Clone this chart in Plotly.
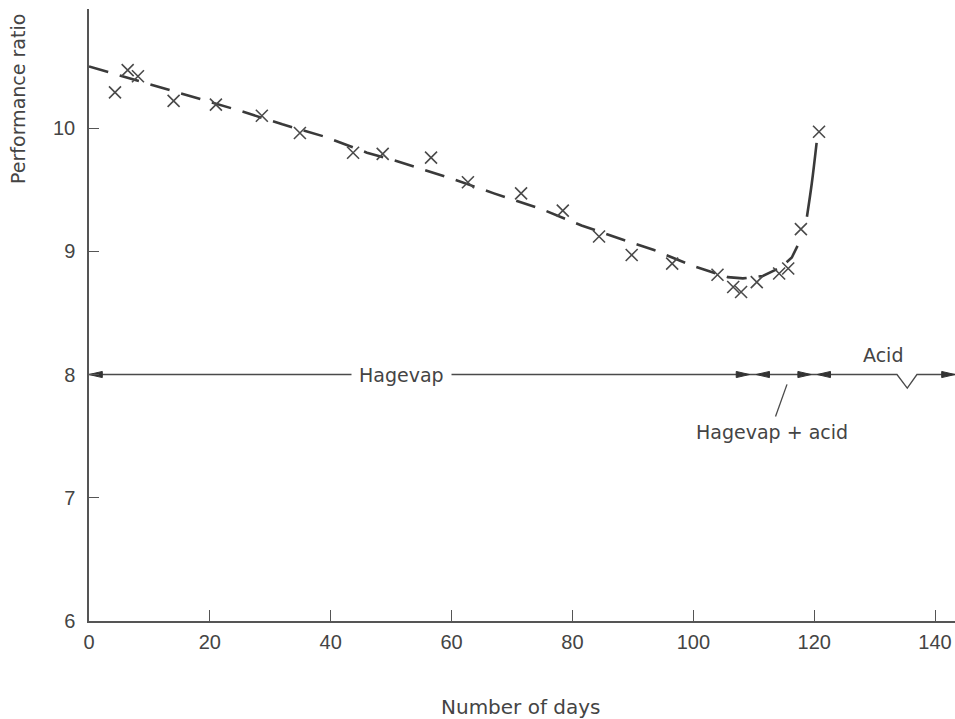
import plotly.graph_objects as go

# ---- data ----
obs_days = [4.3, 6.4, 8.1, 14.0, 21.0, 28.6, 34.9, 43.7, 48.6, 56.6, 62.7, 71.5,
            78.4, 84.4, 89.8, 96.5, 104.0, 106.6, 107.9, 110.5, 114.2, 115.7, 117.8, 120.8]
obs_ratio = [10.29, 10.47, 10.42, 10.22, 10.19, 10.10, 9.96, 9.80, 9.79, 9.76, 9.56, 9.47,
             9.33, 9.12, 8.97, 8.90, 8.81, 8.71, 8.67, 8.75, 8.82, 8.86, 9.18, 9.97]

fit_days_dashed = [0, 11, 17.5, 25, 32, 39, 46, 51, 60, 67, 75, 81.5, 88, 93.5,
                   100, 105.7, 108.2, 111.5, 114.5, 116.3, 117.4]
fit_ratio_dashed = [10.50, 10.34, 10.25, 10.14, 10.03, 9.93, 9.80, 9.73, 9.59, 9.47,
                    9.34, 9.21, 9.10, 9.01, 8.88, 8.79, 8.78, 8.80, 8.87, 8.95, 9.06]
fit_days_solid = [118.8, 119.6, 120.4]
fit_ratio_solid = [9.28, 9.55, 9.88]

treatment_level = 8.0
# period boundaries (days): Hagevap | Hagevap + acid | Acid
period_start = [0.0, 110.4, 120.5]
period_end = [109.3, 119.5, 143.3]
notch_days = [133.7, 135.4, 137.0]
notch_ratio = [8.0, 7.89, 8.0]

x_ticks = [0, 20, 40, 60, 80, 100, 120, 140]
y_ticks = [6, 7, 8, 9, 10]

INK = "#3a3a3a"
AX = "#555555"
TXT = "#444444"

fig = go.Figure()

# regression / trend curve
fig.add_trace(go.Scatter(x=fit_days_dashed, y=fit_ratio_dashed, mode="lines",
                         line=dict(color=INK, width=2.6, dash="20px,12px"),
                         hoverinfo="skip", showlegend=False))
fig.add_trace(go.Scatter(x=fit_days_solid, y=fit_ratio_solid, mode="lines",
                         line=dict(color=INK, width=2.6, shape="spline"),
                         hoverinfo="skip", showlegend=False))

# observations
fig.add_trace(go.Scatter(x=obs_days, y=obs_ratio, mode="markers",
                         marker=dict(symbol="x-thin-open", size=12, color="#4a4a4a",
                                     line=dict(color="#4a4a4a", width=1.6)),
                         showlegend=False))

# treatment period line at y = 8 with the notch
line_x = [period_start[0]] + notch_days + [period_end[-1]]
line_y = [treatment_level] + notch_ratio + [treatment_level]
fig.add_trace(go.Scatter(x=line_x, y=line_y, mode="lines",
                         line=dict(color="#4a4a4a", width=1.3),
                         hoverinfo="skip", showlegend=False))

# arrowheads (filled, elongated) built from the period boundaries
head_len = 2.2   # days
head_half = 0.025
ax_list, ay_list = [], []
for s, e in zip(period_start, period_end):
    ax_list += [s, s + head_len, s + head_len, s, None]
    ay_list += [treatment_level, treatment_level + head_half,
                treatment_level - head_half, treatment_level, None]
    ax_list += [e, e - head_len, e - head_len, e, None]
    ay_list += [treatment_level, treatment_level + head_half,
                treatment_level - head_half, treatment_level, None]
fig.add_trace(go.Scatter(x=ax_list, y=ay_list, mode="lines", fill="toself",
                         fillcolor="#333333", line=dict(color="#333333", width=1),
                         hoverinfo="skip", showlegend=False))

# leader line for "Hagevap + acid"
fig.add_trace(go.Scatter(x=[115.5, 113.6], y=[7.92, 7.66], mode="lines",
                         line=dict(color="#4a4a4a", width=1.3),
                         hoverinfo="skip", showlegend=False))

ann_font = dict(family="DejaVu Sans", size=19, color=TXT)
fig.add_annotation(x=51.7, y=treatment_level, text="Hagevap", showarrow=False,
                   bgcolor="white", borderpad=7, font=ann_font)
fig.add_annotation(x=131.4, y=8.16, text="Acid", showarrow=False, font=ann_font)
fig.add_annotation(x=113.0, y=7.53, text="Hagevap + acid", showarrow=False, font=ann_font)

# axis titles
fig.add_annotation(xref="paper", yref="paper", x=-0.082, y=0.853,
                   xanchor="center", yanchor="middle",
                   text="Performance ratio", textangle=-90, showarrow=False,
                   font=dict(family="DejaVu Sans", size=19, color=TXT))
fig.add_annotation(xref="paper", yref="paper", x=0.499, y=-0.1405,
                   xanchor="center", yanchor="middle",
                   text="Number of days", showarrow=False,
                   font=dict(family="DejaVu Sans", size=20, color=TXT))

tick_font = dict(family="Liberation Sans", size=20, color=TXT)
fig.update_xaxes(range=[0, 143.3], tickvals=x_ticks, ticks="inside", ticklen=11,
                 tickwidth=1.3, tickcolor=AX, showline=True, linecolor=AX,
                 linewidth=1.5, showgrid=False, zeroline=False, tickfont=tick_font,
                 ticklabelstandoff=2)
fig.update_yaxes(range=[6, 10.966], tickvals=y_ticks, ticks="inside", ticklen=10,
                 tickwidth=1.3, tickcolor=AX, showline=True, linecolor=AX,
                 linewidth=1.5, showgrid=False, zeroline=False, tickfont=tick_font,
                 ticklabelstandoff=8)

fig.update_layout(width=955, height=719, margin=dict(l=89, r=0, t=9, b=98),
                  plot_bgcolor="white", paper_bgcolor="white", showlegend=False)

fig.write_html("out.html")
